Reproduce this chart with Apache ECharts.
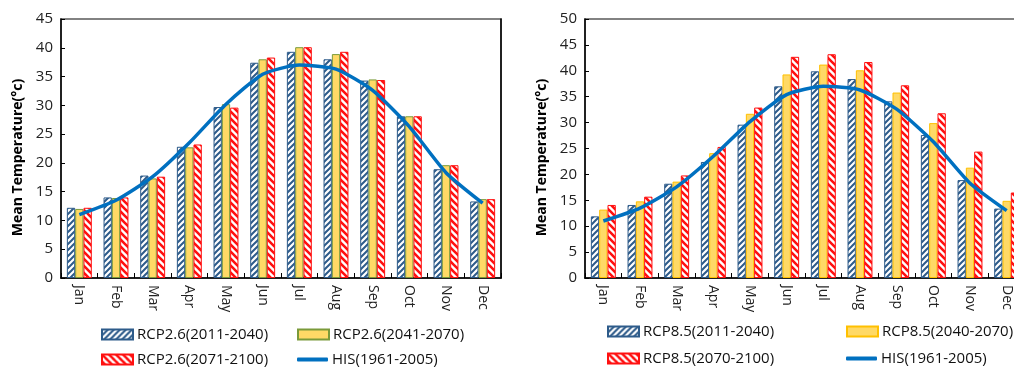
<!DOCTYPE html>
<html>
<head>
<meta charset="utf-8">
<script src="https://cdn.jsdelivr.net/npm/echarts@6/dist/echarts.min.js"></script>
<style>
  html, body { margin: 0; padding: 0; background: #fff; overflow: hidden; }
  #chart { width: 1030px; height: 367px; }
</style>
</head>
<body>
<div id="chart"></div>
<script>
const months = ['Jan', 'Feb', 'Mar', 'Apr', 'May', 'Jun', 'Jul', 'Aug', 'Sep', 'Oct', 'Nov', 'Dec'];

// historical baseline, same curve on both panels
const his = [11.0, 13.5, 17.6, 23.5, 30.2, 35.4, 37.0, 36.3, 32.6, 26.3, 18.3, 13.0];

// RCP2.6
const rcp26Near = [12.2, 14.0, 17.8, 22.8, 29.7, 37.4, 39.3, 38.0, 34.3, 28.1, 18.9, 13.3];
const rcp26Mid = [12.0, 13.9, 17.3, 22.7, 30.2, 38.0, 40.1, 38.9, 34.5, 28.1, 19.6, 13.7];
const rcp26Far = [12.2, 14.0, 17.6, 23.2, 29.6, 38.3, 40.1, 39.3, 34.4, 28.1, 19.6, 13.7];

// RCP8.5
const rcp85Near = [11.9, 14.1, 18.2, 22.4, 29.6, 37.0, 39.9, 38.4, 34.1, 27.6, 18.9, 13.4];
const rcp85Mid = [13.2, 14.8, 18.6, 24.1, 31.7, 39.3, 41.2, 40.1, 35.8, 29.9, 21.3, 14.9];
const rcp85Far = [14.1, 15.7, 19.8, 25.3, 32.9, 42.7, 43.2, 41.7, 37.2, 31.8, 24.4, 16.5];

const names26 = ['RCP2.6(2011-2040)', 'RCP2.6(2041-2070)', 'RCP2.6(2071-2100)', 'HIS(1961-2005)'];
const names85 = ['RCP8.5(2011-2040)', 'RCP8.5(2040-2070)', 'RCP8.5(2070-2100)', 'HIS(1961-2005)'];

const FONT = '"Open Sans", "Liberation Sans", sans-serif';
const BLUE = '#2D5B8A';
const RED = '#FF1010';

// hatch fill: dir 1 = '/', dir -1 = '\'
function hatch(color, dir, size, width) {
  const c = document.createElement('canvas');
  c.width = size;
  c.height = size;
  const ctx = c.getContext('2d');
  ctx.fillStyle = '#fff';
  ctx.fillRect(0, 0, size, size);
  ctx.strokeStyle = color;
  ctx.lineWidth = width;
  ctx.beginPath();
  for (let k = -size; k <= size; k += size) {
    if (dir > 0) {
      ctx.moveTo(k - 1, size + 1);
      ctx.lineTo(k + size + 1, -1);
    } else {
      ctx.moveTo(k - 1, -1);
      ctx.lineTo(k + size + 1, size + 1);
    }
  }
  ctx.stroke();
  return {image: c, repeat: 'repeat'};
}

const bluePattern = hatch(BLUE, 1, 6, 2);
const redPattern = hatch(RED, -1, 7, 2.6);

function yAxisFor(gridIndex, max) {
  return {
    type: 'value',
    gridIndex,
    min: 0,
    max,
    interval: 5,
    name: 'Mean Temperature(°c)',
    nameLocation: 'middle',
    nameGap: 36,
    nameTextStyle: {fontFamily: FONT, fontWeight: 'bold', fontSize: 14, color: '#000', padding: [0, 18, 0, 0]},
    axisLine: {show: true, lineStyle: {color: '#000', width: 1.5}},
    axisTick: {show: true, inside: true, length: 4, lineStyle: {color: '#000'}},
    axisLabel: {fontFamily: FONT, fontSize: 15, color: '#222', margin: 8},
    splitLine: {show: false}
  };
}

function xAxisFor(gridIndex) {
  return {
    type: 'category',
    gridIndex,
    data: months,
    boundaryGap: true,
    axisLine: {lineStyle: {color: '#000', width: 1.5}},
    axisTick: {show: true, inside: true, length: 5, lineStyle: {color: '#000'}},
    axisLabel: {rotate: -90, fontFamily: FONT, fontSize: 14, color: '#222', margin: 7}
  };
}

function barSeries(name, idx, data, style) {
  return {
    name,
    type: 'bar',
    xAxisIndex: idx,
    yAxisIndex: idx,
    data,
    barGap: '0%',
    barCategoryGap: '32%',
    itemStyle: style,
    emphasis: {disabled: true},
    z: 2
  };
}

function hisSeries(idx) {
  return {
    name: 'HIS(1961-2005)',
    type: 'line',
    xAxisIndex: idx,
    yAxisIndex: idx,
    data: his,
    smooth: 0.2,
    showSymbol: false,
    symbol: 'none',
    lineStyle: {color: '#0070C0', width: 3.5},
    itemStyle: {color: '#0070C0'},
    z: 5
  };
}

function legendItem(name, left, top, isLine) {
  return {
    data: [name],
    left,
    top,
    padding: 0,
    orient: 'horizontal',
    selectedMode: false,
    icon: isLine ? 'roundRect' : 'rect',
    itemWidth: 31,
    itemHeight: isLine ? 4 : 10,
    itemGap: 4,
    textStyle: {fontFamily: FONT, fontSize: 15, color: '#111', padding: [0, 0, 0, -1]}
  };
}

const option = {
  animation: false,
  backgroundColor: '#fff',
  grid: [
    {left: 61, top: 19, width: 440, height: 259, show: true, borderColor: '#595959', borderWidth: 1.5},
    {left: 585, top: 19, width: 440, height: 259, show: true, borderColor: '#595959', borderWidth: 1.5}
  ],
  xAxis: [xAxisFor(0), xAxisFor(1)],
  yAxis: [
    yAxisFor(0, 45),
    yAxisFor(1, 50),
    {
      type: 'value', gridIndex: 0, position: 'right', min: 0, max: 45,
      axisLine: {show: true, lineStyle: {color: '#000', width: 1.5}},
      axisTick: {show: false}, axisLabel: {show: false}, splitLine: {show: false}
    }
  ],
  legend: [
    legendItem(names26[0], 101, 327, false),
    legendItem(names26[1], 297, 327, false),
    legendItem(names26[2], 101, 352, false),
    legendItem(names26[3], 297, 352, true),
    legendItem(names85[0], 607, 324, false),
    legendItem(names85[1], 846, 324, false),
    legendItem(names85[2], 607, 351, false),
    legendItem(names85[3], 846, 351, true)
  ],
  series: [
    barSeries(names26[0], 0, rcp26Near, {color: bluePattern, borderColor: BLUE, borderWidth: 1}),
    barSeries(names26[1], 0, rcp26Mid, {color: '#FFD966', borderColor: '#7A9A3A', borderWidth: 1}),
    barSeries(names26[2], 0, rcp26Far, {color: redPattern, borderColor: RED, borderWidth: 1}),
    hisSeries(0),
    barSeries(names85[0], 1, rcp85Near, {color: bluePattern, borderColor: BLUE, borderWidth: 1}),
    barSeries(names85[1], 1, rcp85Mid, {color: '#FFD966', borderColor: '#FFC000', borderWidth: 1}),
    barSeries(names85[2], 1, rcp85Far, {color: redPattern, borderColor: RED, borderWidth: 1}),
    hisSeries(1)
  ]
};

const myChart = echarts.init(document.getElementById('chart'));
myChart.setOption(option);
</script>
</body>
</html>
